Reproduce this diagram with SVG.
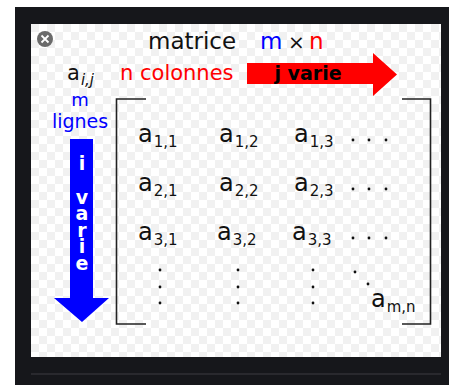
<svg xmlns="http://www.w3.org/2000/svg" width="449" height="385" viewBox="0 0 449 385">
<defs>
<pattern id="chk" x="31" y="24" width="16" height="16" patternUnits="userSpaceOnUse">
<rect width="16" height="16" fill="#ffffff"/>
<rect width="8" height="8" fill="#f1f1f1"/>
<rect x="8" y="8" width="8" height="8" fill="#f1f1f1"/>
</pattern>
<style>
.t{font-family:"DejaVu Sans","Liberation Sans",sans-serif;}
.e{font-family:"DejaVu Sans","Liberation Sans",sans-serif;font-size:24px;fill:#111;}
.s{font-size:15px;}
.b{font-family:"DejaVu Sans","Liberation Sans",sans-serif;font-weight:bold;}
.br{fill:none;stroke:#222;stroke-width:1.6;}
.dot{fill:#111;}
.vt{writing-mode:vertical-rl;text-orientation:upright;letter-spacing:-5.6px;}
</style>
</defs>
<rect width="449" height="385" fill="#ffffff"/>
<rect x="15" y="7" width="434" height="378" fill="#16171b"/>
<rect x="31" y="24" width="410" height="333" fill="url(#chk)"/>
<line x1="31" y1="374" x2="441" y2="374" stroke="#3c3d42" stroke-width="1"/>

<g id="close">
<circle cx="45" cy="39" r="8" fill="#6b6b6b"/>
<path d="M41.5 35.5 L48.5 42.5 M48.5 35.5 L41.5 42.5" stroke="#fff" stroke-width="1.8"/>
</g>

<g id="title">
<text class="t" x="148" y="49" font-size="23" fill="#111">matrice</text>
<text class="t" x="260" y="49" font-size="23" fill="#0000ff">m</text>
<text class="t" x="288" y="49" font-size="20" fill="#111">×</text>
<text class="t" x="309" y="49" font-size="23" fill="#ff0000">n</text>
</g>

<g id="aij">
<text class="t" x="67" y="80" font-size="21" fill="#111">a<tspan font-size="15" font-style="italic" dx="1" dy="5">i,j</tspan></text>
</g>

<g id="colonnes">
<text class="t" x="120" y="80" font-size="21" fill="#ff0000">n colonnes</text>
</g>

<g id="j-arrow">
<path d="M247 63 H373 V53 L397 74.5 L373 96 V84 H247 Z" fill="#ff0000"/>
<text class="b" x="308" y="80" font-size="19" fill="#000" text-anchor="middle">j varie</text>
</g>

<g id="lignes">
<text class="t" x="80" y="106" font-size="18" fill="#0000ff" text-anchor="middle">m</text>
<text class="t" x="80" y="128" font-size="19" fill="#0000ff" text-anchor="middle">lignes</text>
</g>

<g id="i-arrow">
<path d="M70 139 H93 V298 H109 L82 322 L54 298 H70 Z" fill="#0000ff"/>
<text class="b" font-size="19" fill="#ffffff" x="82" y="170" text-anchor="middle">i</text>
<text class="b vt" font-size="19" fill="#ffffff" x="82" y="186">varie</text>
</g>

<g id="matrix">
<path class="br" d="M146 99 H116.5 V324 H146"/>
<path class="br" d="M402 99 H430.5 V324 H402"/>
<text class="e" x="138" y="142">a<tspan class="s" dx="1" dy="5">1,1</tspan></text>
<text class="e" x="219" y="142">a<tspan class="s" dx="1" dy="5">1,2</tspan></text>
<text class="e" x="294" y="142">a<tspan class="s" dx="1" dy="5">1,3</tspan></text>
<text class="e" x="138" y="191">a<tspan class="s" dx="1" dy="5">2,1</tspan></text>
<text class="e" x="219" y="191">a<tspan class="s" dx="1" dy="5">2,2</tspan></text>
<text class="e" x="294" y="191">a<tspan class="s" dx="1" dy="5">2,3</tspan></text>
<text class="e" x="138" y="240">a<tspan class="s" dx="1" dy="5">3,1</tspan></text>
<text class="e" x="217" y="240">a<tspan class="s" dx="1" dy="5">3,2</tspan></text>
<text class="e" x="292" y="240">a<tspan class="s" dx="1" dy="5">3,3</tspan></text>
<text class="e" x="371" y="307">a<tspan class="s" dx="1" dy="5">m,n</tspan></text>
<g class="dot">
<circle cx="353" cy="140" r="1.4"/><circle cx="369" cy="140" r="1.4"/><circle cx="386" cy="140" r="1.4"/>
<circle cx="353" cy="189" r="1.4"/><circle cx="369" cy="189" r="1.4"/><circle cx="386" cy="189" r="1.4"/>
<circle cx="353" cy="238" r="1.4"/><circle cx="369" cy="238" r="1.4"/><circle cx="386" cy="238" r="1.4"/>
<circle cx="160" cy="270" r="1.4"/><circle cx="160" cy="287" r="1.4"/><circle cx="160" cy="303" r="1.4"/>
<circle cx="238" cy="270" r="1.4"/><circle cx="238" cy="287" r="1.4"/><circle cx="238" cy="303" r="1.4"/>
<circle cx="313" cy="270" r="1.4"/><circle cx="313" cy="287" r="1.4"/><circle cx="313" cy="303" r="1.4"/>
<circle cx="355" cy="272" r="1.4"/><circle cx="368" cy="284" r="1.4"/>
</g>
</g>
</svg>
